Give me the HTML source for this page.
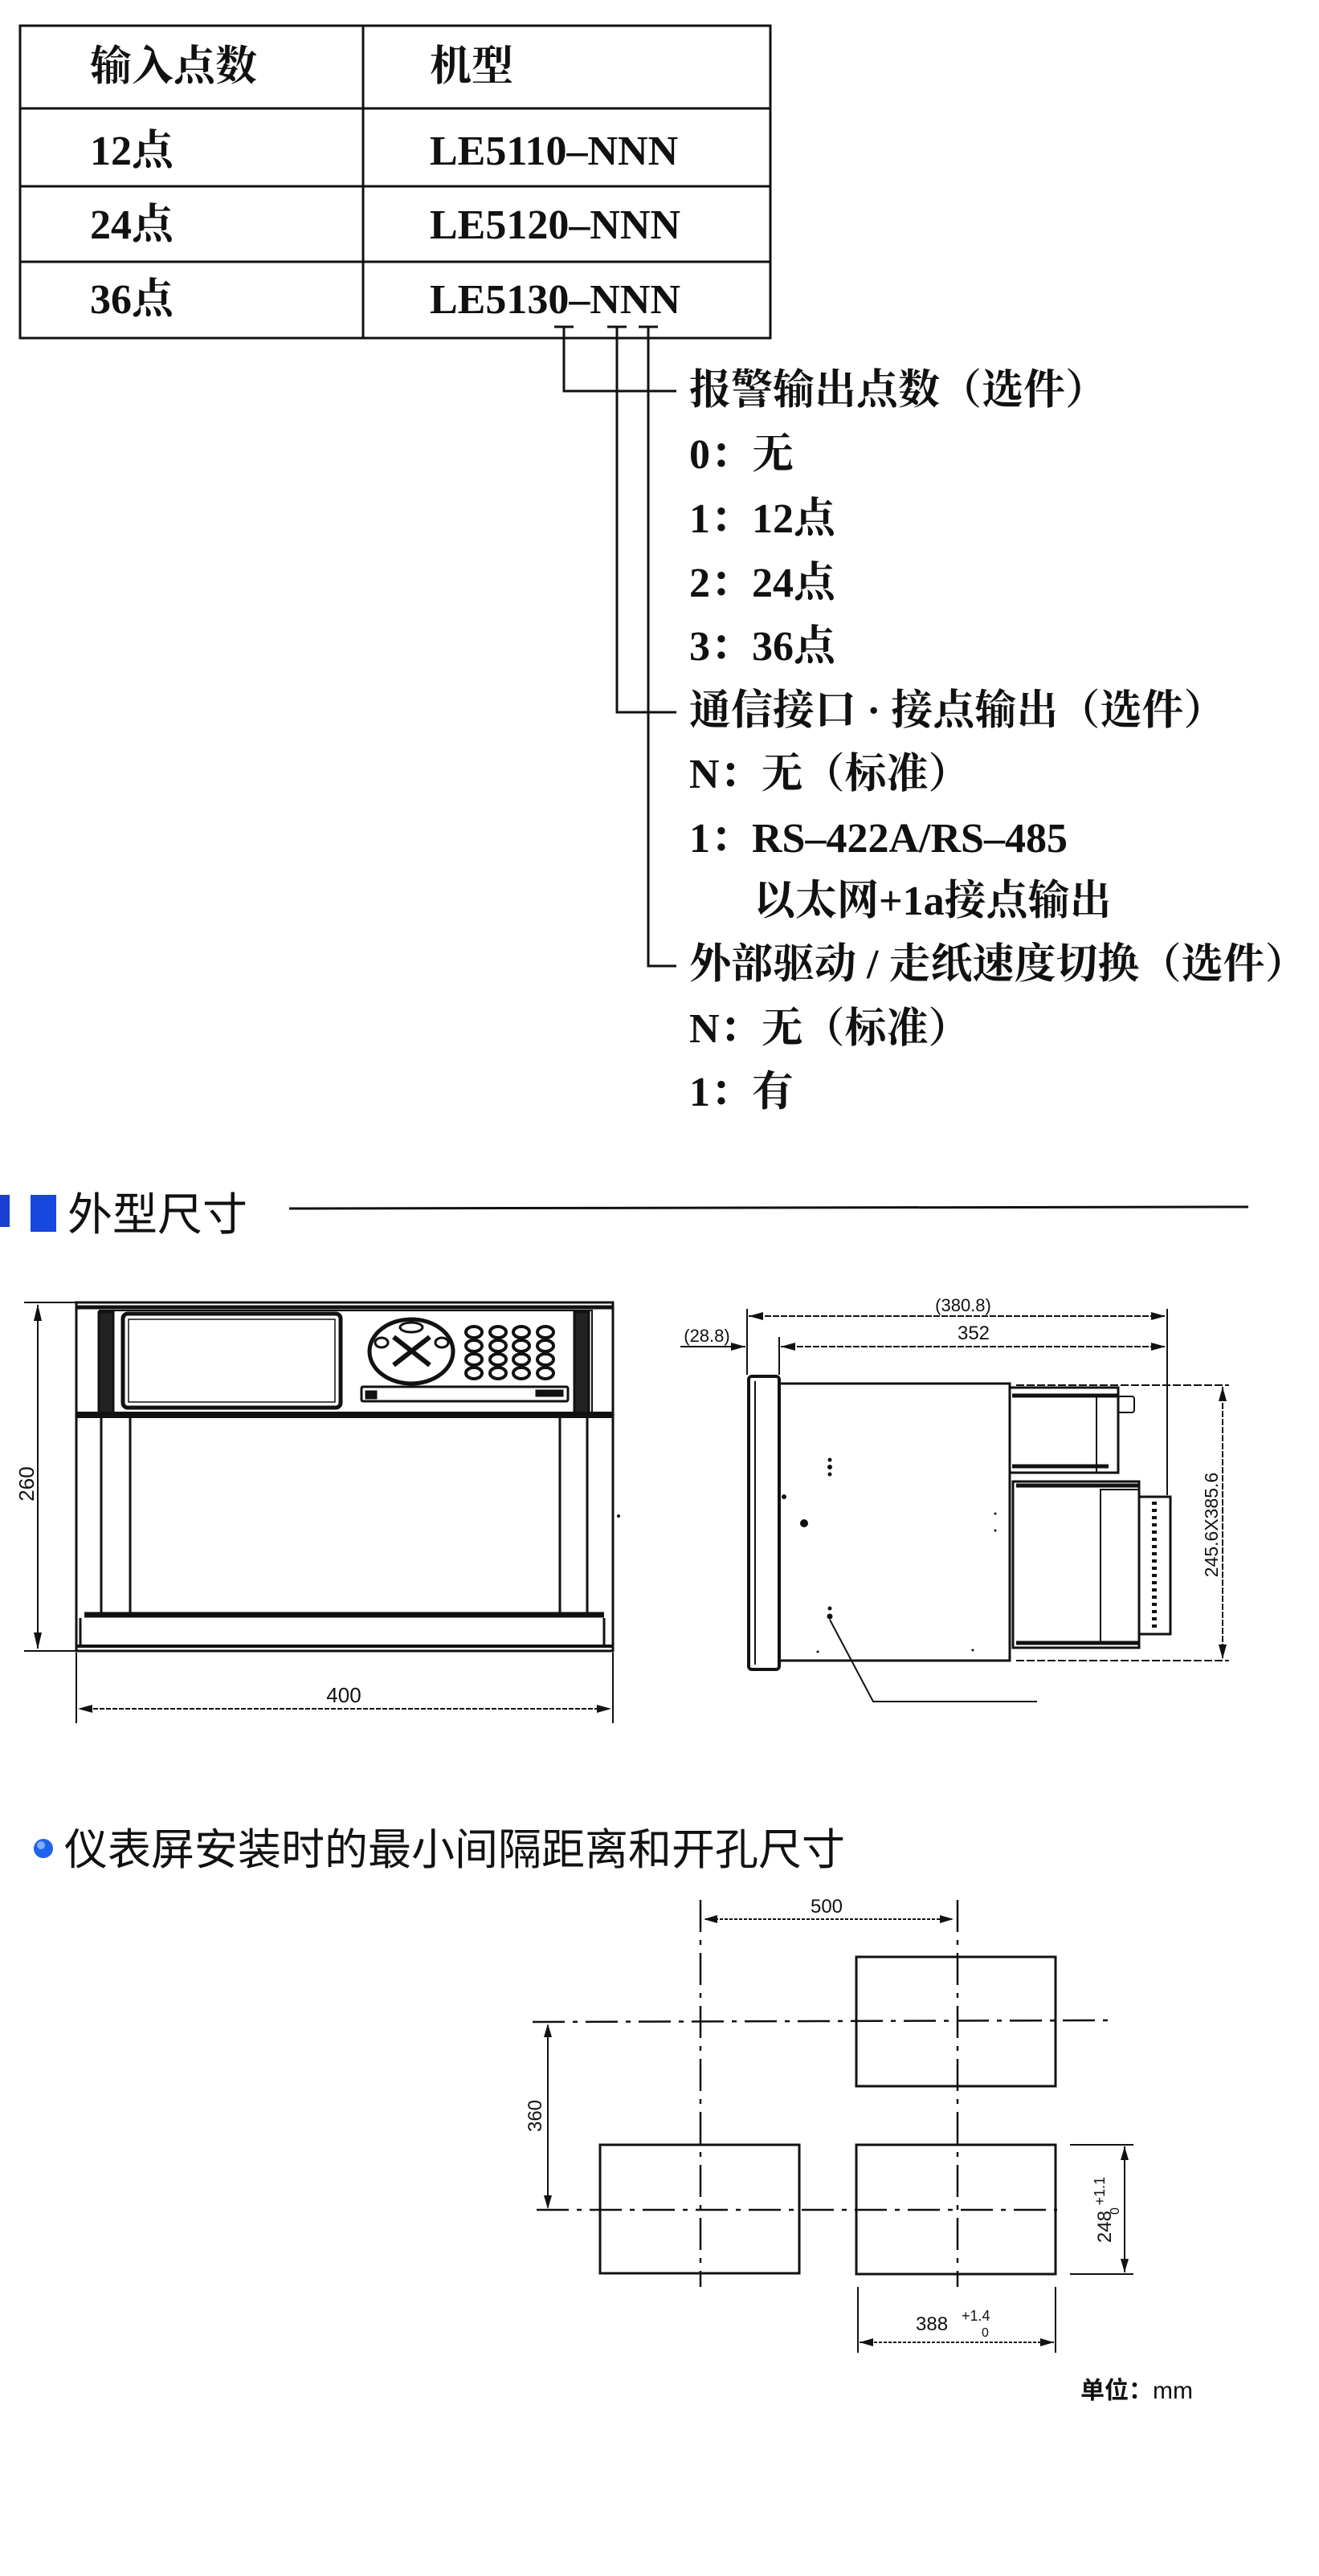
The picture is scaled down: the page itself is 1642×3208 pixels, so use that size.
<!DOCTYPE html>
<html><head><meta charset="utf-8"><style>
html,body{margin:0;padding:0;background:#fff}
svg{display:block}
.t{font-family:"Liberation Serif","Noto Serif CJK SC",serif;font-weight:bold;fill:#111}
.d{font-family:"Liberation Sans","Noto Sans CJK SC",sans-serif;fill:#111}
</style></head><body>
<svg width="1642" height="3208" viewBox="0 0 1642 3208" xmlns="http://www.w3.org/2000/svg">
<rect width="1642" height="3208" fill="#fff"/>
<g stroke="#111" stroke-width="3" fill="none">
<rect x="25" y="32" width="934" height="389"/>
<line x1="452" y1="32" x2="452" y2="421"/>
<line x1="25" y1="135" x2="959" y2="135"/>
<line x1="25" y1="232" x2="959" y2="232"/>
<line x1="25" y1="326" x2="959" y2="326"/>
</g>
<g class="t" font-size="52">
<text x="112" y="100">输入点数</text>
<text x="535" y="100">机型</text>
<text x="112" y="205">12点</text>
<text x="535" y="205">LE5110–NNN</text>
<text x="112" y="297">24点</text>
<text x="535" y="297">LE5120–NNN</text>
<text x="112" y="390">36点</text>
<text x="535" y="390">LE5130–NNN</text>
</g>
<g stroke="#111" stroke-width="3" fill="none">
<line x1="690" y1="407" x2="714" y2="407"/>
<line x1="756" y1="407" x2="780" y2="407"/>
<line x1="795" y1="407" x2="819" y2="407"/>
<polyline points="702,407 702,487 842,487"/>
<polyline points="768,407 768,887 842,887"/>
<polyline points="807,407 807,1203 842,1203"/>
</g>
<g class="t" font-size="52">
<text x="858" y="503">报警输出点数（选件）</text>
<text x="858" y="583">0：无</text>
<text x="858" y="663">1：12点</text>
<text x="858" y="743">2：24点</text>
<text x="858" y="822">3：36点</text>
<text x="858" y="902">通信接口 · 接点输出（选件）</text>
<text x="858" y="981">N：无（标准）</text>
<text x="858" y="1061">1：RS–422A/RS–485</text>
<text x="938" y="1139">以太网+1a接点输出</text>
<text x="858" y="1218">外部驱动 / 走纸速度切换（选件）</text>
<text x="858" y="1298">N：无（标准）</text>
<text x="858" y="1377">1：有</text>
</g>
<rect x="0" y="1488" width="12" height="40" fill="#1a3fd0"/>
<rect x="38" y="1488" width="32" height="46" fill="#1846e0"/>
<text x="84" y="1532" font-family="'Liberation Sans','Noto Sans CJK SC',sans-serif" font-size="56" fill="#111">外型尺寸</text>
<line x1="360" y1="1505" x2="1554" y2="1503" stroke="#111" stroke-width="3"/>
<g stroke="#111" fill="none" stroke-width="3">
<rect x="95" y="1622" width="668" height="434"/>
<line x1="95" y1="1628" x2="763" y2="1628" stroke-width="5"/>
<rect x="124" y="1632" width="613" height="130" stroke-width="2"/>
<rect x="123" y="1634" width="18" height="126" fill="#222"/>
<rect x="715" y="1634" width="18" height="126" fill="#222"/>
<rect x="153" y="1636" width="271" height="117" rx="6" stroke-width="5"/>
<rect x="160" y="1643" width="257" height="103" stroke-width="1.5"/>
<line x1="95" y1="1762" x2="763" y2="1762" stroke-width="8"/>
<line x1="126" y1="1766" x2="126" y2="2012"/>
<line x1="162" y1="1766" x2="162" y2="2012"/>
<line x1="697" y1="1766" x2="697" y2="2012"/>
<line x1="731" y1="1766" x2="731" y2="2012"/>
<line x1="105" y1="2011" x2="752" y2="2011" stroke-width="7"/>
<line x1="95" y1="2050" x2="763" y2="2050" stroke-width="4"/>
<line x1="100" y1="2015" x2="100" y2="2050"/>
<line x1="752" y1="2015" x2="752" y2="2050"/>
<ellipse cx="512" cy="1683" rx="52" ry="40" stroke-width="5"/>
<line x1="490" y1="1665" x2="535" y2="1700" stroke-width="6"/>
<line x1="535" y1="1665" x2="490" y2="1700" stroke-width="6"/>
<ellipse cx="512" cy="1653" rx="14" ry="6"/>
<ellipse cx="475" cy="1672" rx="8" ry="6"/>
<ellipse cx="550" cy="1672" rx="8" ry="6"/>
<g stroke-width="4">
<ellipse cx="590" cy="1659" rx="10" ry="7"/><ellipse cx="620" cy="1659" rx="10" ry="7"/><ellipse cx="649" cy="1659" rx="10" ry="7"/><ellipse cx="679" cy="1659" rx="10" ry="7"/>
<ellipse cx="590" cy="1676" rx="10" ry="7"/><ellipse cx="620" cy="1676" rx="10" ry="7"/><ellipse cx="649" cy="1676" rx="10" ry="7"/><ellipse cx="679" cy="1676" rx="10" ry="7"/>
<ellipse cx="590" cy="1693" rx="10" ry="7"/><ellipse cx="620" cy="1693" rx="10" ry="7"/><ellipse cx="649" cy="1693" rx="10" ry="7"/><ellipse cx="679" cy="1693" rx="10" ry="7"/>
<ellipse cx="590" cy="1710" rx="10" ry="7"/><ellipse cx="620" cy="1710" rx="10" ry="7"/><ellipse cx="649" cy="1710" rx="10" ry="7"/><ellipse cx="679" cy="1710" rx="10" ry="7"/>
</g>
<rect x="450" y="1727" width="257" height="18" rx="2"/>
<rect x="456" y="1733" width="12" height="8" fill="#111"/>
<rect x="668" y="1732" width="32" height="6" fill="#111"/>
<g stroke-width="2">
<line x1="30" y1="1622" x2="95" y2="1622"/>
<line x1="30" y1="2056" x2="95" y2="2056"/>
<line x1="47" y1="1625" x2="47" y2="2053"/>
<line x1="95" y1="2058" x2="95" y2="2146"/>
<line x1="763" y1="2058" x2="763" y2="2146"/>
<line x1="100" y1="2128" x2="758" y2="2128" stroke-dasharray="6 2"/>
</g>
</g>
<g fill="#111">
<polygon points="47,1624 42,1645 52,1645"/>
<polygon points="47,2054 42,2033 52,2033"/>
<polygon points="97,2128 115,2123 115,2133"/>
<polygon points="761,2128 743,2123 743,2133"/>
<circle cx="770" cy="1888" r="2"/>
</g>
<text class="d" font-size="26" transform="translate(42,1848) rotate(-90)" text-anchor="middle">260</text>
<text class="d" x="428" y="2120" font-size="26" text-anchor="middle">400</text>
<g stroke="#111" fill="none" stroke-width="3">
<g stroke-width="2">
<line x1="930" y1="1630" x2="930" y2="1712"/>
<line x1="1453" y1="1630" x2="1453" y2="1862"/>
<line x1="970" y1="1665" x2="970" y2="1712"/>
<line x1="932" y1="1639" x2="1451" y2="1639" stroke-dasharray="8 2"/>
<line x1="972" y1="1677" x2="1451" y2="1677" stroke-dasharray="8 2"/>
<line x1="847" y1="1677" x2="928" y2="1677"/>
<line x1="1265" y1="1725" x2="1530" y2="1725" stroke-dasharray="10 3"/>
<line x1="1265" y1="2068" x2="1530" y2="2068" stroke-dasharray="10 3"/>
<line x1="1522" y1="1727" x2="1522" y2="2066" stroke-dasharray="8 2"/>
</g>
<rect x="932" y="1714" width="38" height="365" rx="4" stroke-width="4"/>
<line x1="940" y1="1720" x2="940" y2="2073" stroke-width="2"/>
<rect x="970" y="1723" width="287" height="345"/>
<rect x="1257" y="1728" width="135" height="106"/>
<line x1="1260" y1="1738" x2="1392" y2="1738" stroke-width="5"/>
<line x1="1260" y1="1826" x2="1380" y2="1826" stroke-width="5"/>
<line x1="1365" y1="1738" x2="1365" y2="1834" stroke-width="2"/>
<rect x="1392" y="1739" width="20" height="20" rx="3" stroke-width="2"/>
<rect x="1261" y="1845" width="157" height="207"/>
<line x1="1265" y1="1850" x2="1418" y2="1850" stroke-width="5"/>
<line x1="1265" y1="2046" x2="1418" y2="2046" stroke-width="5"/>
<rect x="1370" y="1855" width="48" height="192" stroke-width="2"/>
<rect x="1418" y="1864" width="39" height="171" stroke-width="3"/>
<line x1="1437" y1="1870" x2="1437" y2="2030" stroke-width="6" stroke-dasharray="4 5"/>
<polyline points="1033,2017 1087,2119 1291,2119" stroke-width="2"/>
</g>
<g fill="#111">
<polygon points="932,1639 950,1634 950,1644"/>
<polygon points="1451,1639 1433,1634 1433,1644"/>
<polygon points="972,1677 990,1672 990,1682"/>
<polygon points="1451,1677 1433,1672 1433,1682"/>
<polygon points="928,1677 910,1672 910,1682"/>
<polygon points="1522,1727 1517,1745 1527,1745"/>
<polygon points="1522,2066 1517,2048 1527,2048"/>
<circle cx="1033" cy="1818" r="2.5"/><circle cx="1033" cy="1827" r="3"/><circle cx="1033" cy="1836" r="2.5"/>
<circle cx="1001" cy="1897" r="5"/>
<circle cx="976" cy="1864" r="3"/>
<circle cx="1033" cy="2003" r="2.5"/><circle cx="1033" cy="2013" r="3.5"/>
<circle cx="1018" cy="2057" r="1.5"/><circle cx="1211" cy="2055" r="1.5"/>
<circle cx="1239" cy="1885" r="1.5"/><circle cx="1239" cy="1906" r="1.5"/>
</g>
<text class="d" x="1199" y="1633" font-size="22" text-anchor="middle">(380.8)</text>
<text class="d" x="1212" y="1668" font-size="24" text-anchor="middle">352</text>
<text class="d" x="880" y="1671" font-size="22" text-anchor="middle">(28.8)</text>
<text class="d" font-size="23" transform="translate(1516,1899) rotate(-90)" text-anchor="middle">245.6X385.6</text>
<circle cx="54" cy="2302" r="12" fill="#1f62ee"/>
<circle cx="51" cy="2298" r="5" fill="#7fb0ff"/>
<text x="80" y="2322" font-family="'Liberation Sans','Noto Sans CJK SC',sans-serif" font-size="54" fill="#111">仪表屏安装时的最小间隔距离和开孔尺寸</text>
<g stroke="#111" fill="none" stroke-width="3">
<rect x="1066" y="2437" width="248" height="161"/>
<rect x="747" y="2671" width="248" height="160"/>
<rect x="1066" y="2671" width="248" height="161"/>
<g stroke-width="2.5" stroke-dasharray="40 10 6 10">
<line x1="872" y1="2366" x2="872" y2="2848"/>
<line x1="1192" y1="2366" x2="1192" y2="2848"/>
<line x1="663" y1="2518" x2="1384" y2="2516"/>
<line x1="668" y1="2752" x2="1316" y2="2752"/>
</g>
<g stroke-width="2">
<line x1="878" y1="2390" x2="1185" y2="2390" stroke-dasharray="4 2"/>
<line x1="682" y1="2522" x2="682" y2="2749"/>
<line x1="1332" y1="2671" x2="1411" y2="2671"/>
<line x1="1332" y1="2832" x2="1411" y2="2832"/>
<line x1="1400" y1="2673" x2="1400" y2="2830"/>
<line x1="1068" y1="2848" x2="1068" y2="2930"/>
<line x1="1314" y1="2848" x2="1314" y2="2930"/>
<line x1="1070" y1="2917" x2="1312" y2="2917" stroke-dasharray="4 2"/>
</g>
</g>
<g fill="#111">
<polygon points="876,2390 893,2385 893,2395"/>
<polygon points="1187,2390 1170,2385 1170,2395"/>
<polygon points="682,2520 677,2537 687,2537"/>
<polygon points="682,2751 677,2734 687,2734"/>
<polygon points="1400,2673 1395,2690 1405,2690"/>
<polygon points="1400,2830 1395,2813 1405,2813"/>
<polygon points="1070,2917 1087,2912 1087,2922"/>
<polygon points="1312,2917 1295,2912 1295,2922"/>
</g>
<text class="d" x="1029" y="2382" font-size="24" text-anchor="middle">500</text>
<text class="d" font-size="24" transform="translate(674,2635) rotate(-90)" text-anchor="middle">360</text>
<text class="d" font-size="24" transform="translate(1383,2752) rotate(-90)" text-anchor="middle">248 <tspan font-size="18" dy="-8">+1.1</tspan></text>
<text class="d" font-size="16" transform="translate(1393,2758) rotate(-90)">0</text>
<text class="d" x="1140" y="2902" font-size="24">388</text>
<text class="d" x="1197" y="2890" font-size="18">+1.4</text>
<text class="d" x="1222" y="2910" font-size="16">0</text>
<text x="1345" y="2987" font-family="'Liberation Sans','Noto Sans CJK SC',sans-serif" font-size="30" font-weight="bold" fill="#111">单位：<tspan font-weight="normal">mm</tspan></text>
</svg>
</body></html>
